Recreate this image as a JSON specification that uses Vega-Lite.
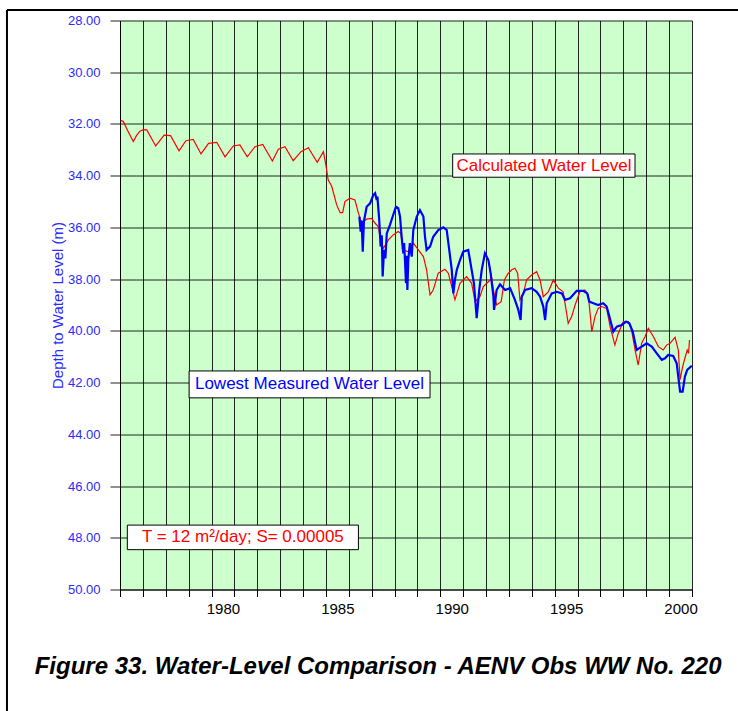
{
  "$schema": "https://vega.github.io/schema/vega-lite/v6.json",
  "autosize": {"type": "none"},
  "width": 572,
  "height": 569,
  "padding": {"left": 120, "top": 20.5, "right": 46, "bottom": 121.5},
  "background": "white",
  "config": {
    "view": {"fill": "#ccffcc", "stroke": null},
    "font": "Liberation Sans",
    "axisX": {
      "tickCount": 25,
      "labelExpr": "(datum.value % 5 == 0 && datum.value < 2001) ? '' + datum.value : ''",
      "labelOffset": 11.44, "labelFontSize": 15, "labelColor": "black", "labelPadding": 5,
      "labelOverlap": false, "labelFlush": false, "tickSize": 7, "tickColor": "black",
      "domainColor": "black", "grid": true, "gridColor": "black", "gridOpacity": 0.85
    },
    "axisY": {
      "tickCount": 11,
      "format": ".2f", "labelFontSize": 13, "labelColor": "#2b2bff", "labelPadding": 10,
      "tickSize": 10, "tickColor": "#222", "domainColor": "black", "grid": true,
      "gridColor": "black", "gridOpacity": 0.85,
      "titleColor": "#2b2bff", "titleFontSize": 15, "titleFontWeight": "normal", "titlePadding": 2
    }
  },
  "datasets": {
    "levels": [
      {"series": "calc", "year": 1976.03, "depth": 31.87},
      {"series": "calc", "year": 1976.14, "depth": 31.90},
      {"series": "calc", "year": 1976.36, "depth": 32.30},
      {"series": "calc", "year": 1976.58, "depth": 32.68},
      {"series": "calc", "year": 1976.72, "depth": 32.45},
      {"series": "calc", "year": 1976.87, "depth": 32.28},
      {"series": "calc", "year": 1977.02, "depth": 32.22},
      {"series": "calc", "year": 1977.17, "depth": 32.23},
      {"series": "calc", "year": 1977.56, "depth": 32.85},
      {"series": "calc", "year": 1977.93, "depth": 32.43},
      {"series": "calc", "year": 1978.21, "depth": 32.45},
      {"series": "calc", "year": 1978.58, "depth": 33.04},
      {"series": "calc", "year": 1978.88, "depth": 32.65},
      {"series": "calc", "year": 1979.20, "depth": 32.60},
      {"series": "calc", "year": 1979.54, "depth": 33.16},
      {"series": "calc", "year": 1979.87, "depth": 32.75},
      {"series": "calc", "year": 1980.23, "depth": 32.71},
      {"series": "calc", "year": 1980.59, "depth": 33.27},
      {"series": "calc", "year": 1980.95, "depth": 32.85},
      {"series": "calc", "year": 1981.24, "depth": 32.81},
      {"series": "calc", "year": 1981.56, "depth": 33.27},
      {"series": "calc", "year": 1981.90, "depth": 32.88},
      {"series": "calc", "year": 1982.24, "depth": 32.79},
      {"series": "calc", "year": 1982.66, "depth": 33.43},
      {"series": "calc", "year": 1982.92, "depth": 32.98},
      {"series": "calc", "year": 1983.21, "depth": 32.88},
      {"series": "calc", "year": 1983.57, "depth": 33.42},
      {"series": "calc", "year": 1983.91, "depth": 33.07},
      {"series": "calc", "year": 1984.23, "depth": 32.92},
      {"series": "calc", "year": 1984.62, "depth": 33.48},
      {"series": "calc", "year": 1984.89, "depth": 33.07},
      {"series": "calc", "year": 1985.00, "depth": 33.60},
      {"series": "calc", "year": 1985.10, "depth": 34.17},
      {"series": "calc", "year": 1985.25, "depth": 34.40},
      {"series": "calc", "year": 1985.47, "depth": 35.13},
      {"series": "calc", "year": 1985.62, "depth": 35.43},
      {"series": "calc", "year": 1985.73, "depth": 35.43},
      {"series": "calc", "year": 1985.83, "depth": 35.00},
      {"series": "calc", "year": 1986.05, "depth": 34.87},
      {"series": "calc", "year": 1986.27, "depth": 34.94},
      {"series": "calc", "year": 1986.42, "depth": 35.45},
      {"series": "calc", "year": 1986.56, "depth": 35.84},
      {"series": "calc", "year": 1986.78, "depth": 35.68},
      {"series": "calc", "year": 1987.00, "depth": 35.65},
      {"series": "calc", "year": 1987.15, "depth": 35.84},
      {"series": "calc", "year": 1987.29, "depth": 35.97},
      {"series": "calc", "year": 1987.36, "depth": 36.36},
      {"series": "calc", "year": 1987.51, "depth": 36.81},
      {"series": "calc", "year": 1987.73, "depth": 36.48},
      {"series": "calc", "year": 1987.94, "depth": 36.29},
      {"series": "calc", "year": 1988.16, "depth": 36.16},
      {"series": "calc", "year": 1988.27, "depth": 36.23},
      {"series": "calc", "year": 1988.38, "depth": 36.87},
      {"series": "calc", "year": 1988.60, "depth": 36.94},
      {"series": "calc", "year": 1988.82, "depth": 36.61},
      {"series": "calc", "year": 1989.04, "depth": 36.87},
      {"series": "calc", "year": 1989.26, "depth": 37.13},
      {"series": "calc", "year": 1989.40, "depth": 37.64},
      {"series": "calc", "year": 1989.55, "depth": 38.61},
      {"series": "calc", "year": 1989.69, "depth": 38.42},
      {"series": "calc", "year": 1989.91, "depth": 37.77},
      {"series": "calc", "year": 1990.20, "depth": 37.62},
      {"series": "calc", "year": 1990.35, "depth": 37.77},
      {"series": "calc", "year": 1990.50, "depth": 38.29},
      {"series": "calc", "year": 1990.64, "depth": 38.80},
      {"series": "calc", "year": 1990.86, "depth": 38.16},
      {"series": "calc", "year": 1991.15, "depth": 37.90},
      {"series": "calc", "year": 1991.37, "depth": 38.16},
      {"series": "calc", "year": 1991.52, "depth": 38.87},
      {"series": "calc", "year": 1991.73, "depth": 38.68},
      {"series": "calc", "year": 1991.88, "depth": 38.29},
      {"series": "calc", "year": 1992.10, "depth": 38.10},
      {"series": "calc", "year": 1992.25, "depth": 37.97},
      {"series": "calc", "year": 1992.32, "depth": 38.42},
      {"series": "calc", "year": 1992.46, "depth": 39.00},
      {"series": "calc", "year": 1992.66, "depth": 38.87},
      {"series": "calc", "year": 1992.80, "depth": 38.03},
      {"series": "calc", "year": 1992.95, "depth": 37.80},
      {"series": "calc", "year": 1993.12, "depth": 37.64},
      {"series": "calc", "year": 1993.26, "depth": 37.58},
      {"series": "calc", "year": 1993.38, "depth": 37.77},
      {"series": "calc", "year": 1993.48, "depth": 38.80},
      {"series": "calc", "year": 1993.63, "depth": 38.55},
      {"series": "calc", "year": 1993.77, "depth": 38.03},
      {"series": "calc", "year": 1993.99, "depth": 37.84},
      {"series": "calc", "year": 1994.21, "depth": 37.71},
      {"series": "calc", "year": 1994.36, "depth": 38.03},
      {"series": "calc", "year": 1994.50, "depth": 38.68},
      {"series": "calc", "year": 1994.72, "depth": 38.49},
      {"series": "calc", "year": 1994.94, "depth": 38.03},
      {"series": "calc", "year": 1995.16, "depth": 38.35},
      {"series": "calc", "year": 1995.37, "depth": 38.49},
      {"series": "calc", "year": 1995.59, "depth": 39.71},
      {"series": "calc", "year": 1995.74, "depth": 39.45},
      {"series": "calc", "year": 1995.89, "depth": 39.00},
      {"series": "calc", "year": 1996.10, "depth": 38.49},
      {"series": "calc", "year": 1996.32, "depth": 38.42},
      {"series": "calc", "year": 1996.47, "depth": 38.61},
      {"series": "calc", "year": 1996.62, "depth": 40.03},
      {"series": "calc", "year": 1996.76, "depth": 39.45},
      {"series": "calc", "year": 1996.90, "depth": 39.13},
      {"series": "calc", "year": 1997.05, "depth": 39.06},
      {"series": "calc", "year": 1997.27, "depth": 39.13},
      {"series": "calc", "year": 1997.42, "depth": 39.84},
      {"series": "calc", "year": 1997.63, "depth": 40.55},
      {"series": "calc", "year": 1997.78, "depth": 40.09},
      {"series": "calc", "year": 1998.00, "depth": 39.64},
      {"series": "calc", "year": 1998.22, "depth": 39.64},
      {"series": "calc", "year": 1998.36, "depth": 39.97},
      {"series": "calc", "year": 1998.51, "depth": 40.74},
      {"series": "calc", "year": 1998.65, "depth": 41.32},
      {"series": "calc", "year": 1998.80, "depth": 40.48},
      {"series": "calc", "year": 1998.95, "depth": 40.22},
      {"series": "calc", "year": 1999.09, "depth": 39.90},
      {"series": "calc", "year": 1999.31, "depth": 40.22},
      {"series": "calc", "year": 1999.53, "depth": 40.61},
      {"series": "calc", "year": 1999.74, "depth": 40.74},
      {"series": "calc", "year": 1999.89, "depth": 40.55},
      {"series": "calc", "year": 2000.04, "depth": 40.48},
      {"series": "calc", "year": 2000.26, "depth": 40.25},
      {"series": "calc", "year": 2000.40, "depth": 40.74},
      {"series": "calc", "year": 2000.48, "depth": 41.89},
      {"series": "calc", "year": 2000.59, "depth": 41.38},
      {"series": "calc", "year": 2000.69, "depth": 41.06},
      {"series": "calc", "year": 2000.79, "depth": 40.74},
      {"series": "calc", "year": 2000.85, "depth": 40.87},
      {"series": "calc", "year": 2000.89, "depth": 40.35},

      {"series": "meas", "year": 1986.46, "depth": 35.58},
      {"series": "meas", "year": 1986.52, "depth": 36.16},
      {"series": "meas", "year": 1986.56, "depth": 35.73},
      {"series": "meas", "year": 1986.61, "depth": 36.94},
      {"series": "meas", "year": 1986.66, "depth": 35.78},
      {"series": "meas", "year": 1986.78, "depth": 35.20},
      {"series": "meas", "year": 1986.93, "depth": 35.07},
      {"series": "meas", "year": 1987.07, "depth": 34.75},
      {"series": "meas", "year": 1987.15, "depth": 34.68},
      {"series": "meas", "year": 1987.22, "depth": 34.94},
      {"series": "meas", "year": 1987.25, "depth": 34.81},
      {"series": "meas", "year": 1987.33, "depth": 35.71},
      {"series": "meas", "year": 1987.39, "depth": 36.74},
      {"series": "meas", "year": 1987.44, "depth": 36.30},
      {"series": "meas", "year": 1987.48, "depth": 37.90},
      {"series": "meas", "year": 1987.54, "depth": 36.87},
      {"series": "meas", "year": 1987.60, "depth": 37.20},
      {"series": "meas", "year": 1987.66, "depth": 36.23},
      {"series": "meas", "year": 1987.80, "depth": 35.90},
      {"series": "meas", "year": 1987.94, "depth": 35.52},
      {"series": "meas", "year": 1988.06, "depth": 35.20},
      {"series": "meas", "year": 1988.16, "depth": 35.26},
      {"series": "meas", "year": 1988.24, "depth": 35.58},
      {"series": "meas", "year": 1988.31, "depth": 36.36},
      {"series": "meas", "year": 1988.38, "depth": 37.00},
      {"series": "meas", "year": 1988.42, "depth": 36.60},
      {"series": "meas", "year": 1988.46, "depth": 37.39},
      {"series": "meas", "year": 1988.50, "depth": 38.16},
      {"series": "meas", "year": 1988.53, "depth": 37.10},
      {"series": "meas", "year": 1988.56, "depth": 38.42},
      {"series": "meas", "year": 1988.60, "depth": 37.26},
      {"series": "meas", "year": 1988.67, "depth": 36.61},
      {"series": "meas", "year": 1988.75, "depth": 37.13},
      {"series": "meas", "year": 1988.82, "depth": 36.10},
      {"series": "meas", "year": 1988.97, "depth": 35.58},
      {"series": "meas", "year": 1989.11, "depth": 35.33},
      {"series": "meas", "year": 1989.26, "depth": 35.58},
      {"series": "meas", "year": 1989.33, "depth": 36.36},
      {"series": "meas", "year": 1989.40, "depth": 36.87},
      {"series": "meas", "year": 1989.55, "depth": 36.74},
      {"series": "meas", "year": 1989.69, "depth": 36.36},
      {"series": "meas", "year": 1989.91, "depth": 36.10},
      {"series": "meas", "year": 1990.13, "depth": 36.00},
      {"series": "meas", "year": 1990.28, "depth": 36.10},
      {"series": "meas", "year": 1990.39, "depth": 36.87},
      {"series": "meas", "year": 1990.50, "depth": 37.64},
      {"series": "meas", "year": 1990.57, "depth": 38.55},
      {"series": "meas", "year": 1990.64, "depth": 38.03},
      {"series": "meas", "year": 1990.72, "depth": 37.64},
      {"series": "meas", "year": 1990.86, "depth": 37.26},
      {"series": "meas", "year": 1991.00, "depth": 36.94},
      {"series": "meas", "year": 1991.22, "depth": 36.87},
      {"series": "meas", "year": 1991.37, "depth": 37.64},
      {"series": "meas", "year": 1991.47, "depth": 38.16},
      {"series": "meas", "year": 1991.59, "depth": 39.51},
      {"series": "meas", "year": 1991.70, "depth": 38.42},
      {"series": "meas", "year": 1991.81, "depth": 37.64},
      {"series": "meas", "year": 1991.95, "depth": 37.00},
      {"series": "meas", "year": 1992.10, "depth": 37.26},
      {"series": "meas", "year": 1992.20, "depth": 37.77},
      {"series": "meas", "year": 1992.32, "depth": 38.68},
      {"series": "meas", "year": 1992.35, "depth": 39.19},
      {"series": "meas", "year": 1992.46, "depth": 38.42},
      {"series": "meas", "year": 1992.61, "depth": 38.20},
      {"series": "meas", "year": 1992.83, "depth": 38.42},
      {"series": "meas", "year": 1993.05, "depth": 38.35},
      {"series": "meas", "year": 1993.26, "depth": 38.80},
      {"series": "meas", "year": 1993.41, "depth": 39.19},
      {"series": "meas", "year": 1993.51, "depth": 39.58},
      {"series": "meas", "year": 1993.56, "depth": 38.68},
      {"series": "meas", "year": 1993.70, "depth": 38.42},
      {"series": "meas", "year": 1993.99, "depth": 38.35},
      {"series": "meas", "year": 1994.21, "depth": 38.49},
      {"series": "meas", "year": 1994.36, "depth": 38.68},
      {"series": "meas", "year": 1994.50, "depth": 39.06},
      {"series": "meas", "year": 1994.58, "depth": 39.58},
      {"series": "meas", "year": 1994.65, "depth": 38.93},
      {"series": "meas", "year": 1994.87, "depth": 38.55},
      {"series": "meas", "year": 1995.09, "depth": 38.49},
      {"series": "meas", "year": 1995.31, "depth": 38.55},
      {"series": "meas", "year": 1995.45, "depth": 38.80},
      {"series": "meas", "year": 1995.67, "depth": 38.74},
      {"series": "meas", "year": 1995.96, "depth": 38.45},
      {"series": "meas", "year": 1996.25, "depth": 38.45},
      {"series": "meas", "year": 1996.42, "depth": 38.55},
      {"series": "meas", "year": 1996.51, "depth": 38.87},
      {"series": "meas", "year": 1996.69, "depth": 38.93},
      {"series": "meas", "year": 1996.90, "depth": 39.00},
      {"series": "meas", "year": 1997.12, "depth": 38.93},
      {"series": "meas", "year": 1997.27, "depth": 39.06},
      {"series": "meas", "year": 1997.39, "depth": 39.45},
      {"series": "meas", "year": 1997.56, "depth": 40.03},
      {"series": "meas", "year": 1997.71, "depth": 39.84},
      {"series": "meas", "year": 1997.93, "depth": 39.77},
      {"series": "meas", "year": 1998.12, "depth": 39.64},
      {"series": "meas", "year": 1998.26, "depth": 39.71},
      {"series": "meas", "year": 1998.41, "depth": 40.03},
      {"series": "meas", "year": 1998.58, "depth": 40.74},
      {"series": "meas", "year": 1998.80, "depth": 40.61},
      {"series": "meas", "year": 1999.02, "depth": 40.48},
      {"series": "meas", "year": 1999.24, "depth": 40.61},
      {"series": "meas", "year": 1999.46, "depth": 40.87},
      {"series": "meas", "year": 1999.68, "depth": 41.12},
      {"series": "meas", "year": 1999.82, "depth": 41.06},
      {"series": "meas", "year": 1999.96, "depth": 40.93},
      {"series": "meas", "year": 2000.18, "depth": 40.97},
      {"series": "meas", "year": 2000.33, "depth": 41.25},
      {"series": "meas", "year": 2000.40, "depth": 41.77},
      {"series": "meas", "year": 2000.48, "depth": 42.35},
      {"series": "meas", "year": 2000.59, "depth": 42.35},
      {"series": "meas", "year": 2000.69, "depth": 41.77},
      {"series": "meas", "year": 2000.79, "depth": 41.51},
      {"series": "meas", "year": 2000.99, "depth": 41.35}
    ],
    "one": [{}]
  },
  "layer": [
    {
      "data": {"name": "levels"},
      "transform": [{"filter": "datum.series == 'calc'"}],
      "mark": {"type": "line", "color": "#ff0000", "strokeWidth": 1.2},
      "encoding": {
        "x": {
          "field": "year", "type": "quantitative",
          "scale": {"domain": [1976, 2001], "nice": false, "zero": false},
          "axis": {"title": null}
        },
        "y": {
          "field": "depth", "type": "quantitative",
          "scale": {"domain": [28, 50], "reverse": true, "nice": false, "zero": false},
          "axis": {"title": "Depth to Water Level (m)"}
        }
      }
    },
    {
      "data": {"name": "levels"},
      "transform": [{"filter": "datum.series == 'meas'"}],
      "mark": {"type": "line", "color": "#0000ff", "strokeWidth": 2.2},
      "encoding": {
        "x": {"field": "year", "type": "quantitative", "axis": {"title": null}},
        "y": {"field": "depth", "type": "quantitative", "axis": {"title": "Depth to Water Level (m)"}}
      }
    },
    {
      "data": {"name": "one"},
      "mark": {"type": "rect", "fill": "white", "stroke": "black", "strokeWidth": 1},
      "encoding": {
        "x": {"datum": 1990.54, "type": "quantitative"},
        "x2": {"datum": 1998.51},
        "y": {"datum": 33.16, "type": "quantitative"},
        "y2": {"datum": 34.06}
      }
    },
    {
      "data": {"name": "one"},
      "mark": {"type": "text", "text": "Calculated Water Level", "color": "#ff0000", "fontSize": 17, "font": "Liberation Sans", "align": "center", "baseline": "middle"},
      "encoding": {
        "x": {"datum": 1994.53, "type": "quantitative"},
        "y": {"datum": 33.61, "type": "quantitative"}
      }
    },
    {
      "data": {"name": "one"},
      "mark": {"type": "rect", "fill": "white", "stroke": "black", "strokeWidth": 1},
      "encoding": {
        "x": {"datum": 1979.02, "type": "quantitative"},
        "x2": {"datum": 1989.55},
        "y": {"datum": 41.55, "type": "quantitative"},
        "y2": {"datum": 42.59}
      }
    },
    {
      "data": {"name": "one"},
      "mark": {"type": "text", "text": "Lowest Measured Water Level", "color": "#0000ff", "fontSize": 17, "font": "Liberation Sans", "align": "center", "baseline": "middle"},
      "encoding": {
        "x": {"datum": 1984.28, "type": "quantitative"},
        "y": {"datum": 42.07, "type": "quantitative"}
      }
    },
    {
      "data": {"name": "one"},
      "mark": {"type": "rect", "fill": "white", "stroke": "black", "strokeWidth": 1},
      "encoding": {
        "x": {"datum": 1976.32, "type": "quantitative"},
        "x2": {"datum": 1986.42},
        "y": {"datum": 47.51, "type": "quantitative"},
        "y2": {"datum": 48.46}
      }
    },
    {
      "data": {"name": "one"},
      "mark": {"type": "text", "text": "T = 12 m²/day; S= 0.00005", "color": "#ff0000", "fontSize": 17, "font": "Liberation Sans", "align": "center", "baseline": "middle"},
      "encoding": {
        "x": {"datum": 1981.37, "type": "quantitative"},
        "y": {"datum": 47.98, "type": "quantitative"}
      }
    },
    {
      "data": {"name": "one"},
      "mark": {"type": "text", "text": "Figure 33. Water-Level Comparison - AENV Obs WW No. 220", "color": "black", "fontSize": 24, "font": "Liberation Sans", "fontWeight": "bold", "fontStyle": "italic", "align": "center", "baseline": "middle", "clip": false},
      "encoding": {
        "x": {"datum": 1987.28, "type": "quantitative"},
        "y": {"datum": 52.99, "type": "quantitative"}
      }
    },
    {
      "data": {"name": "one"},
      "mark": {"type": "rule", "color": "black", "strokeWidth": 2, "clip": false},
      "encoding": {
        "x": {"datum": 1971.06, "type": "quantitative"},
        "y": {"datum": 27.594, "type": "quantitative"},
        "y2": {"datum": 56}
      }
    },
    {
      "data": {"name": "one"},
      "mark": {"type": "rule", "color": "black", "strokeWidth": 2, "clip": false},
      "encoding": {
        "x": {"datum": 1971.06, "type": "quantitative"},
        "x2": {"datum": 2004},
        "y": {"datum": 27.594, "type": "quantitative"}
      }
    }
  ]
}
